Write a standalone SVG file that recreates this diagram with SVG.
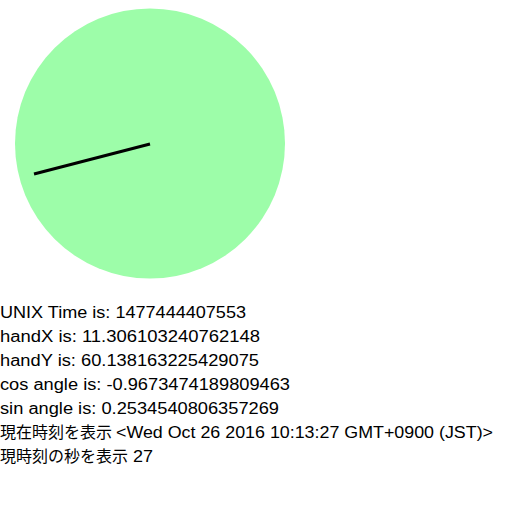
<svg xmlns="http://www.w3.org/2000/svg" width="519" height="508" viewBox="0 0 519 508">
<style>
text{font-family:"Liberation Sans","Noto Sans CJK JP",sans-serif;font-size:16px;fill:#000}
.j{font-family:"Noto Sans CJK JP",sans-serif}
</style>
<rect width="519" height="508" fill="#fff"/>
<g id="clock">
<circle cx="150" cy="143.5" r="135" fill="#9dfda9"/>
<line x1="150" y1="144" x2="34" y2="174" stroke="#000" stroke-width="3"/>
</g>
<g id="info">
<text x="0" y="318" textLength="246" lengthAdjust="spacingAndGlyphs">UNIX Time is: 1477444407553</text>
<text x="0" y="342" textLength="260" lengthAdjust="spacingAndGlyphs">handX is: 11.306103240762148</text>
<text x="0" y="366" textLength="259" lengthAdjust="spacingAndGlyphs">handY is: 60.138163225429075</text>
<text x="0" y="390" textLength="290" lengthAdjust="spacingAndGlyphs">cos angle is: -0.9673474189809463</text>
<text x="0" y="414" textLength="279" lengthAdjust="spacingAndGlyphs">sin angle is: 0.2534540806357269</text>
<text class="j" x="0" y="438">現在時刻を表示</text>
<text x="116" y="438" textLength="377" lengthAdjust="spacingAndGlyphs">&lt;Wed Oct 26 2016 10:13:27 GMT+0900 (JST)&gt;</text>
<text class="j" x="0" y="462">現時刻の秒を表示</text>
<text x="133" y="462" textLength="20" lengthAdjust="spacingAndGlyphs">27</text>
</g>
</svg>
